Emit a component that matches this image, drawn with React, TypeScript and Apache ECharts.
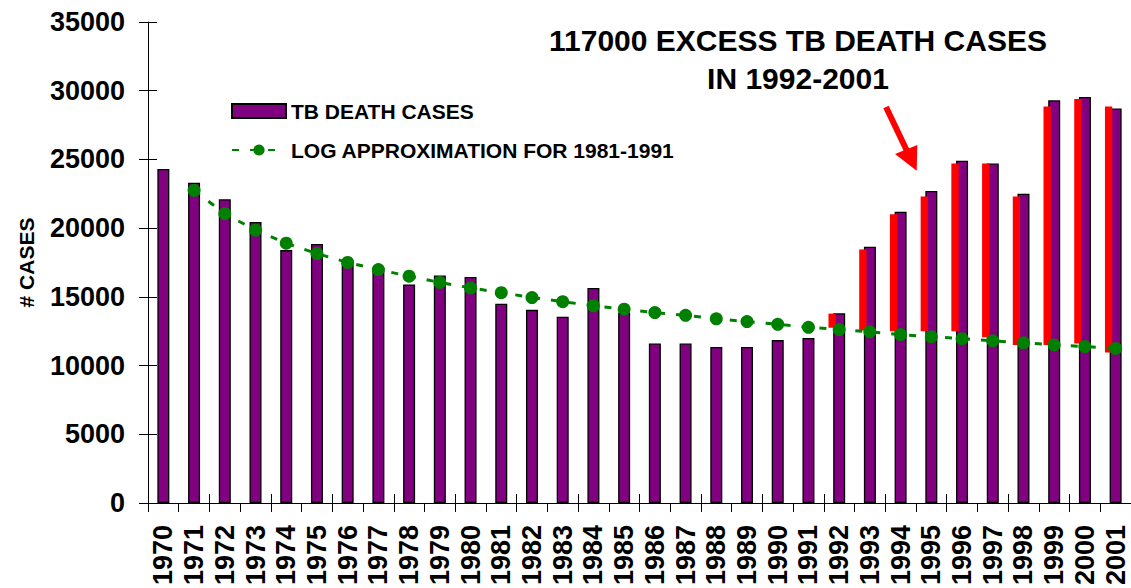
import React, { useEffect, useRef } from "react";
import * as echarts from "echarts";

const years = [
  "1970", "1971", "1972", "1973", "1974", "1975", "1976", "1977",
  "1978", "1979", "1980", "1981", "1982", "1983", "1984", "1985",
  "1986", "1987", "1988", "1989", "1990", "1991", "1992", "1993",
  "1994", "1995", "1996", "1997", "1998", "1999", "2000", "2001",
];

const tbDeaths = [
  24300, 23300, 22100, 20450, 18400, 18850, 17500, 17100,
  15900, 16550, 16450, 14500, 14050, 13550, 15650, 13850,
  11600, 11600, 11350, 11350, 11850, 12000, 13800, 18650,
  21200, 22700, 24900, 24700, 22500, 29300, 29550, 28700,
];

const logApprox: (number | string)[] = [
  "-", 22750, 21050, 19850, 18900, 18150, 17500, 16980,
  16500, 16050, 15650, 15300, 14950, 14650, 14350, 14100,
  13850, 13650, 13400, 13200, 13000, 12780, 12620, 12450,
  12250, 12100, 11950, 11800, 11650, 11500, 11380, 11240,
];

// excess bars (1992-2001): bottom and top of each red bar
const excessYears = ["1992", "1993", "1994", "1995", "1996", "1997", "1998", "1999", "2000", "2001"];
const excessBottom = [12750, 12550, 12500, 12500, 12500, 12050, 11500, 11500, 11600, 10950];
const excessTop = [13780, 18450, 21000, 22300, 24700, 24700, 22300, 28850, 29400, 28850];

const yTicks = { min: 0, max: 35000, interval: 5000 };

const titleText = "117000 EXCESS TB DEATH CASES\nIN 1992-2001";
const FONT = "'Liberation Sans', Arial, Helvetica, sans-serif";

export default function App() {
  const ref = useRef<HTMLDivElement>(null);

  useEffect(() => {
    if (!ref.current) return;
    const chart = echarts.init(ref.current, undefined, { renderer: "svg" });

    const baseData = years.map((y) => {
      const i = excessYears.indexOf(y);
      return i >= 0 ? excessBottom[i] : "-";
    });
    const redData = years.map((y) => {
      const i = excessYears.indexOf(y);
      return i >= 0 ? excessTop[i] - excessBottom[i] : "-";
    });
    const dummy = years.map(() => "-");

    const option: any = {
      animation: false,
      textStyle: { fontFamily: FONT },
      title: {
        text: titleText,
        left: 798,
        top: 21,
        padding: 0,
        textAlign: "center",
        textStyle: {
          fontFamily: FONT,
          fontSize: 30,
          fontWeight: "bold",
          color: "#000",
          lineHeight: 38,
        },
      },
      legend: {
        orient: "vertical",
        left: 231,
        top: 100,
        padding: 0,
        itemGap: 17,
        itemWidth: 54,
        itemHeight: 14,
        selectedMode: false,
        textStyle: {
          fontFamily: FONT,
          fontSize: 21,
          fontWeight: "bold",
          color: "#000",
          lineHeight: 22,
        },
        data: [
          { name: "TB DEATH CASES", icon: "rect" },
          { name: "LOG APPROXIMATION FOR 1981-1991" },
        ],
      },
      grid: { left: 148, top: 22, width: 983, height: 481.5 },
      xAxis: [
        {
          type: "category",
          data: years,
          position: "bottom",
          axisLine: { show: true, lineStyle: { color: "#000", width: 1 } },
          axisTick: { show: true, length: 9, lineStyle: { color: "#000" } },
          axisLabel: {
            rotate: 90,
            margin: 22,
            fontSize: 27,
            fontWeight: "bold",
            color: "#000",
            fontFamily: FONT,
            interval: 0,
          },
          splitLine: { show: false },
        },
        {
          type: "category",
          data: years,
          position: "bottom",
          axisLine: { show: false },
          axisTick: { show: true, inside: true, length: 9, lineStyle: { color: "#000" } },
          axisLabel: { show: false },
          splitLine: { show: false },
        },
      ],
      yAxis: [
        {
          type: "value",
          ...yTicks,
          position: "left",
          name: "# CASES",
          nameLocation: "middle",
          nameGap: 111,
          nameTextStyle: {
            fontFamily: FONT,
            fontSize: 21,
            fontWeight: "bold",
            color: "#000",
          },
          axisLine: { show: true, lineStyle: { color: "#000", width: 1 } },
          axisTick: { show: true, length: 9, lineStyle: { color: "#000" } },
          axisLabel: {
            margin: 23,
            fontSize: 27,
            fontWeight: "bold",
            color: "#000",
            fontFamily: FONT,
            formatter: (v: number) => String(v),
          },
          splitLine: { show: false },
        },
        {
          type: "value",
          ...yTicks,
          position: "left",
          axisLine: { show: false },
          axisTick: { show: true, inside: true, length: 9, lineStyle: { color: "#000" } },
          axisLabel: { show: false },
          splitLine: { show: false },
        },
      ],
      series: [
        {
          name: "TB DEATH CASES",
          type: "bar",
          xAxisIndex: 0,
          yAxisIndex: 0,
          data: tbDeaths,
          barWidth: 12,
          itemStyle: { color: "#800080", borderColor: "#000", borderWidth: 1.3 },
          z: 2,
        },
        {
          name: "excess-base",
          type: "bar",
          xAxisIndex: 1,
          yAxisIndex: 0,
          stack: "excess",
          data: baseData,
          barWidth: 7.3,
          barGap: "93%",
          itemStyle: { color: "transparent" },
          z: 3,
        },
        {
          name: "excess",
          type: "bar",
          xAxisIndex: 1,
          yAxisIndex: 0,
          stack: "excess",
          data: redData,
          barWidth: 7.3,
          barGap: "93%",
          itemStyle: { color: "#FF0000" },
          z: 3,
        },
        {
          name: "dummy",
          type: "bar",
          xAxisIndex: 1,
          yAxisIndex: 0,
          data: dummy,
          barWidth: 7.3,
          barGap: "93%",
          z: 3,
        },
        {
          name: "LOG APPROXIMATION FOR 1981-1991",
          type: "line",
          xAxisIndex: 0,
          yAxisIndex: 0,
          data: logApprox,
          symbol: "circle",
          symbolSize: 13,
          itemStyle: { color: "#008000" },
          lineStyle: { color: "#008000", width: 3, type: [7, 11] },
          z: 5,
        },
      ],
      graphic: [
        {
          type: "line",
          shape: { x1: 886, y1: 107, x2: 907, y2: 151 },
          style: { stroke: "#FF0000", lineWidth: 6 },
          z: 10,
        },
        {
          type: "polygon",
          shape: { points: [[916.7, 170.7], [895, 154], [917.3, 145]] },
          style: { fill: "#FF0000" },
          z: 10,
        },
      ],
    };

    chart.setOption(option);
    return () => chart.dispose();
  }, []);

  return (
    <div
      ref={ref}
      style={{ position: "absolute", left: 0, top: 0, width: 1131, height: 588, background: "#fff" }}
    />
  );
}
